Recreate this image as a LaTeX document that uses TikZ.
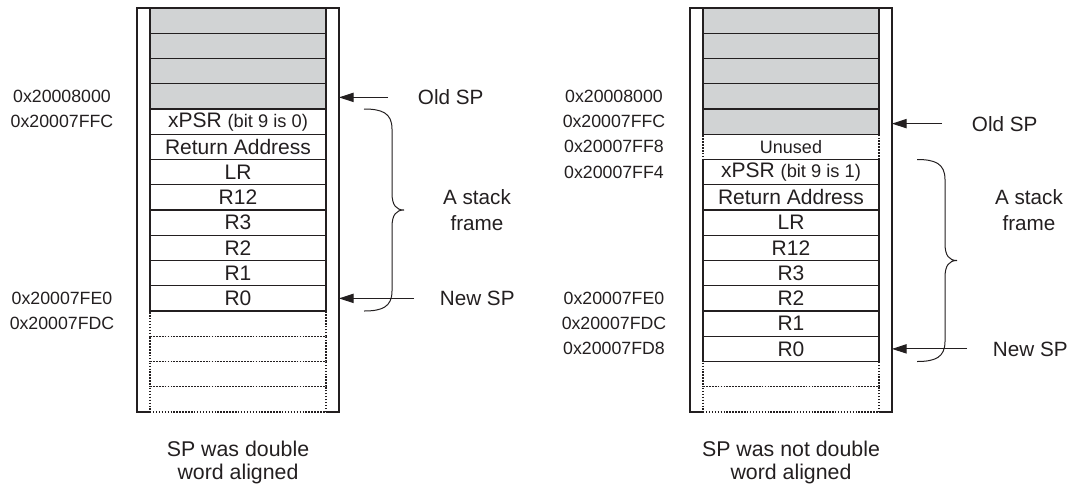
\documentclass[tikz,border=0pt]{standalone}
\usepackage{fontspec}
\setmainfont{Liberation Sans}
\usetikzlibrary{arrows.meta,positioning}
\definecolor{slotgray}{HTML}{D1D3D4}
\definecolor{inkline}{HTML}{231F20}
\newcommand{\bitnote}[1]{{\fontsize{13.7}{16}\selectfont(bit 9 is #1)}}

\begin{document}
\begin{tikzpicture}[x=0.75pt, y=-0.75pt, line width=0.9pt,
  slot/.style={draw=inkline, minimum width=132pt, minimum height=18.94pt, inner sep=0pt, outer sep=0pt, font=\fontsize{15.75}{18}\selectfont, text=inkline},
  used/.style={slot, fill=slotgray},
  free/.style={slot, dash pattern=on 1.1pt off 1.1pt},
  spare/.style={free, font=\fontsize{13.5}{16}\selectfont},
  strip/.style={minimum width=9.75pt, minimum height=303pt, inner sep=0pt, outer sep=0pt},
  rim/.style={draw=inkline, line width=0.9pt},
  addr/.style={font=\fontsize{13.3}{16}\selectfont, text=inkline, inner sep=0pt},
  lbl/.style={font=\fontsize{15.5}{19.5}\selectfont, text=inkline, align=center, inner sep=0pt},
  capt/.style={font=\fontsize{16}{17.25}\selectfont, text=inkline, align=center, inner sep=0pt},
  sparrow/.style={-{Triangle[length=11pt,width=7pt]}, draw=inkline, line width=0.75pt},
  stackbrace/.pic={\draw[inkline, line width=0.75pt] (0,0) .. controls (18,0) and (28,4) .. (28,20) -- (28,84)
     .. controls (28,96) and (32,101) .. (40,101) .. controls (32,101) and (28,106) .. (28,118) -- (28,182)
     .. controls (28,198) and (18,202) .. (0,202);}]
\useasboundingbox (0,0) rectangle (1071,487);
% ---- left stack: SP was double word aligned
\foreach \sty/\txt [count=\i] in {used/{},used/{},used/{},used/{},slot/xPSR \bitnote{0},slot/Return Address,slot/LR,slot/R12,
    slot/R3,slot/R2,slot/R1,slot/R0,free/{},free/{},free/{},free/{}}
  \node[\sty] (lc\i) at (238,{8+25.25*(\i-0.5)}) {\txt};
\node[strip, anchor=north east] (lsl) at (lc1.north west) {};
\node[strip, anchor=north west] (lsr) at (lc1.north east) {};
\draw[rim] (lsl.north east) -- (lsl.north west) -- (lsl.south west) -- (lsl.south east);
\draw[rim] (lsr.north west) -- (lsr.north east) -- (lsr.south east) -- (lsr.south west);
\coordinate (laddr) at (62,0);
\node[addr] (la1) at (laddr |- lc4) {0x20008000};
\node[addr] (la2) at (laddr |- lc5) {0x20007FFC};
\node[addr] (la3) at (laddr |- lc12) {0x20007FE0};
\node[addr] (la4) at (laddr |- lc13) {0x20007FDC};
\path (lsr.east |- lc4) ++(49,1) coordinate (loldtail);
\node[lbl, anchor=west, right=22pt of loldtail] (lold) {Old SP};
\draw[sparrow] (loldtail) -- (loldtail -| lsr.east);
\path (lsr.east |- lc12) ++(75,0) coordinate (lnewtail);
\node[lbl, anchor=west, right=19pt of lnewtail] (lnew) {New SP};
\draw[sparrow] (lnewtail) -- (lnewtail -| lsr.east);
\path (lsr.east |- lc5.north) ++(25,0) coordinate (lbtop);
\pic (lbrace) at (lbtop) {stackbrace};
\path (lsr.east |- lc9.north) ++(138,0) node[lbl] (lframe) {A stack\\frame};
\path (lc16.south) ++(0,50) node[capt] (lcap) {SP was double\\word aligned};
% ---- right stack: SP was not double word aligned
\foreach \sty/\txt [count=\i] in {used/{},used/{},used/{},used/{},used/{},spare/Unused,slot/xPSR \bitnote{1},slot/Return Address,
    slot/LR,slot/R12,slot/R3,slot/R2,slot/R1,slot/R0,free/{},free/{}}
  \node[\sty] (rc\i) at (791,{8+25.25*(\i-0.5)}) {\txt};
\node[strip, anchor=north east] (rsl) at (rc1.north west) {};
\node[strip, anchor=north west] (rsr) at (rc1.north east) {};
\draw[rim] (rsl.north east) -- (rsl.north west) -- (rsl.south west) -- (rsl.south east);
\draw[rim] (rsr.north west) -- (rsr.north east) -- (rsr.south east) -- (rsr.south west);
\coordinate (raddr) at (614,0);
\node[addr] (ra1) at (raddr |- rc4) {0x20008000};
\node[addr] (ra2) at (raddr |- rc5) {0x20007FFC};
\node[addr] (ra3) at (raddr |- rc6) {0x20007FF8};
\node[addr] (ra4) at (raddr |- rc7) {0x20007FF4};
\node[addr] (ra5) at (raddr |- rc12) {0x20007FE0};
\node[addr] (ra6) at (raddr |- rc13) {0x20007FDC};
\node[addr] (ra7) at (raddr |- rc14) {0x20007FD8};
\path (rsr.east |- rc5) ++(50,2) coordinate (roldtail);
\node[lbl, anchor=west, right=22pt of roldtail] (rold) {Old SP};
\draw[sparrow] (roldtail) -- (roldtail -| rsr.east);
\path (rsr.east |- rc14) ++(75,0) coordinate (rnewtail);
\node[lbl, anchor=west, right=19pt of rnewtail] (rnew) {New SP};
\draw[sparrow] (rnewtail) -- (rnewtail -| rsr.east);
\path (rsr.east |- rc7.north) ++(25,0) coordinate (rbtop);
\pic (rbrace) at (rbtop) {stackbrace};
\path (rsr.east |- rc9.north) ++(137,0) node[lbl] (rframe) {A stack\\frame};
\path (rc16.south) ++(0,50) node[capt] (rcap) {SP was not double\\word aligned};
\end{tikzpicture}
\end{document}
